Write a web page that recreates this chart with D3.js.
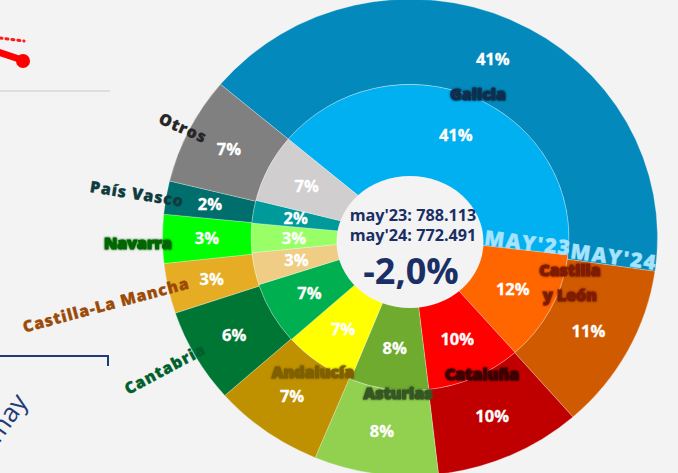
<!DOCTYPE html>
<html><head><meta charset="utf-8">
<script src="https://cdn.jsdelivr.net/npm/d3@7/dist/d3.min.js"></script>
<style>
html,body{margin:0;padding:0;background:#f3f3f3;overflow:hidden}
svg{display:block}
</style></head>
<body>
<svg id="c" width="678" height="473"></svg>
<script>
// ---- data ----
const regions = ["Galicia","Castilla y León","Cataluña","Asturias","Andalucía","Cantabria","Castilla-La Mancha","Navarra","País Vasco","Otros"];
const may23 = [320773,92210,75660,63050,57530,52010,26800,24430,18910,56740];
const may24 = [317891,87290,74160,62570,55620,49440,26260,25490,17380,56390];
const total23 = 788113, total24 = 772491;
const yearLabels = ["MAY'23","MAY'24"];
const centerLines = ["may'23: 788.113","may'24: 772.491"];
const changeLabel = "-2,0%";

// ---- styles ----
const outerColors = ["#0389bc","#d05a00","#c00000","#92d050","#bf9000","#007635","#e5ac24","#00ff00","#006e6c","#808080"];
const innerColors = ["#00b0f0","#ff6600","#ff0000","#6fab2f","#ffff00","#00b050","#efcd84","#99ff66","#009a9a","#d0cece"];
const labelColors = ["#0d2f4f","#7f1f00","#3f0000","#375623","#7f6000","#00602b","#9c4a08","#006600","#0d3b3e","#262626"];

const cx = 410, cy = 237.5, sy = 0.963;
const R0 = 60, R1 = 159, R2 = 247.5;
const start = -50 * Math.PI / 180;

const svg = d3.select("#c");
const pie = d3.pie().sort(null).startAngle(start).endAngle(start + 2 * Math.PI);
const p23 = pie(may23), p24 = pie(may24);

// left-side fragments of neighbouring visuals
svg.append("line").attr("x1",0).attr("y1",38).attr("x2",24).attr("y2",41)
  .attr("stroke","#ff1a1a").attr("stroke-width",3).attr("stroke-dasharray","2,4").attr("stroke-linecap","round");
svg.append("line").attr("x1",-2).attr("y1",52).attr("x2",22).attr("y2",60)
  .attr("stroke","#ff0000").attr("stroke-width",7).attr("stroke-linecap","round");
svg.append("circle").attr("cx",23).attr("cy",61).attr("r",7).attr("fill","#ff0000");
svg.append("line").attr("x1",0).attr("y1",91).attr("x2",110).attr("y2",91).attr("stroke","#d3d7de").attr("stroke-width",1.5);
svg.append("path").attr("d","M0,356 H108 V366").attr("fill","none").attr("stroke","#1f3c77").attr("stroke-width",2);
svg.append("text").attr("transform","translate(-1,444) rotate(-55)").attr("font-family","'Open Sans',sans-serif")
  .attr("font-size",26).attr("fill","#1f3c77").text("may");

// rings
const g = svg.append("g").attr("transform",`translate(${cx},${cy}) scale(1,${sy})`);
const arcIn = d3.arc().innerRadius(R0).outerRadius(R1);
const arcOut = d3.arc().innerRadius(R1).outerRadius(R2);
g.selectAll("path.in").data(p23).join("path").attr("class","in").attr("d",arcIn)
  .attr("fill",(d,i)=>innerColors[i]).attr("stroke","rgba(255,255,255,0.35)").attr("stroke-width",0.8);
g.selectAll("path.out").data(p24).join("path").attr("class","out").attr("d",arcOut)
  .attr("fill",(d,i)=>outerColors[i]).attr("stroke","rgba(255,255,255,0.35)").attr("stroke-width",0.8);

// center disc
svg.append("ellipse").attr("cx",410).attr("cy",242).attr("rx",73.5).attr("ry",66).attr("fill","#f3f3f3");

function toScreen(r, a){ // a in radians, d3 convention
  return [cx + r*Math.sin(a), cy - r*Math.cos(a)*sy];
}
const fmtPct = v => Math.round(v*100) + "%";

// percent labels
function pctLabel(x,y,txt){
  svg.append("text").attr("x",x).attr("y",y).attr("text-anchor","middle").attr("dy","0.35em")
    .attr("font-family","'Open Sans',sans-serif").attr("font-weight",700).attr("font-size",16.5)
    .attr("fill","#fff").attr("stroke","#fff").attr("stroke-width",0.3).text(txt);
}
p24.forEach((d,i)=>{
  const [x,y] = toScreen(203,(d.startAngle+d.endAngle)/2);
  pctLabel(x,y,fmtPct(may24[i]/total24));
});
p23.forEach((d,i)=>{
  const [x,y] = toScreen(116,(d.startAngle+d.endAngle)/2);
  pctLabel(x,y,fmtPct(may23[i]/total23));
});

// year labels along Galicia / CyL boundary
const yl = [{x:528,y:243,rot:7},{x:614,y:257,rot:8}];
yearLabels.forEach((t,i)=>{
  svg.append("text").attr("transform",`translate(${yl[i].x},${yl[i].y}) rotate(${yl[i].rot})`)
    .attr("text-anchor","middle").attr("dy","0.35em")
    .attr("font-family","'Open Sans',sans-serif").attr("font-weight",800).attr("font-size",20.5)
    .attr("letter-spacing",1.5).attr("fill","#a6e3ff").attr("stroke","#a6e3ff").attr("stroke-width",0.4).text(t);
});

// region name labels
const defs = svg.append("defs");
const f = defs.append("filter").attr("id","glow").attr("x","-20%").attr("y","-40%").attr("width","140%").attr("height","180%");
f.append("feGaussianBlur").attr("in","SourceGraphic").attr("stdDeviation",1.3).attr("result","b");
const m = f.append("feMerge"); m.append("feMergeNode").attr("in","b"); m.append("feMergeNode").attr("in","SourceGraphic");

const nameLayout = [
  {x:478,y:94,rot:0,heavy:true},
  {x:570,y:270,rot:0,heavy:true,lines:["Castilla","y León"]},
  {x:482,y:374,rot:0,heavy:true},
  {x:398,y:393,rot:0,heavy:true},
  {x:313,y:372,rot:0,heavy:true},
  {x:165,y:369,rot:-28,heavy:false},
  {x:106,y:305,rot:-15,heavy:false},
  {x:138,y:243,rot:0,heavy:true},
  {x:137,y:194,rot:9,heavy:false},
  {x:183,y:128,rot:24,heavy:false}
];
regions.forEach((name,i)=>{
  const L = nameLayout[i];
  const t = svg.append("text").attr("transform",`translate(${L.x},${L.y}) rotate(${L.rot})`)
    .attr("text-anchor","middle").attr("font-family","'Open Sans',sans-serif")
    .attr("font-weight",800).attr("font-size",16)
    .attr("letter-spacing",L.heavy?0:0.9).attr("fill",labelColors[i])
    .attr("stroke",labelColors[i]).attr("stroke-width",L.heavy?1.1:0.3);
  if (L.heavy) t.attr("filter","url(#glow)");
  const lines = L.lines || [name];
  lines.forEach((s,k)=>{
    t.append("tspan").attr("x",0).attr("dy",k===0?"0.35em":"1.6em").text(s);
  });
});

// center texts
centerLines.forEach((s,i)=>{
  svg.append("text").attr("x",413).attr("y",221+i*20).attr("text-anchor","middle")
    .attr("font-family","'Open Sans',sans-serif").attr("font-weight",700).attr("font-size",16.2)
    .attr("fill","#1b2f66").text(s);
});
svg.append("text").attr("x",411).attr("y",284).attr("text-anchor","middle")
  .attr("font-family","'Open Sans',sans-serif").attr("font-weight",700).attr("font-size",36)
  .attr("fill","#1b2f66").text(changeLabel);
</script>
</body></html>
